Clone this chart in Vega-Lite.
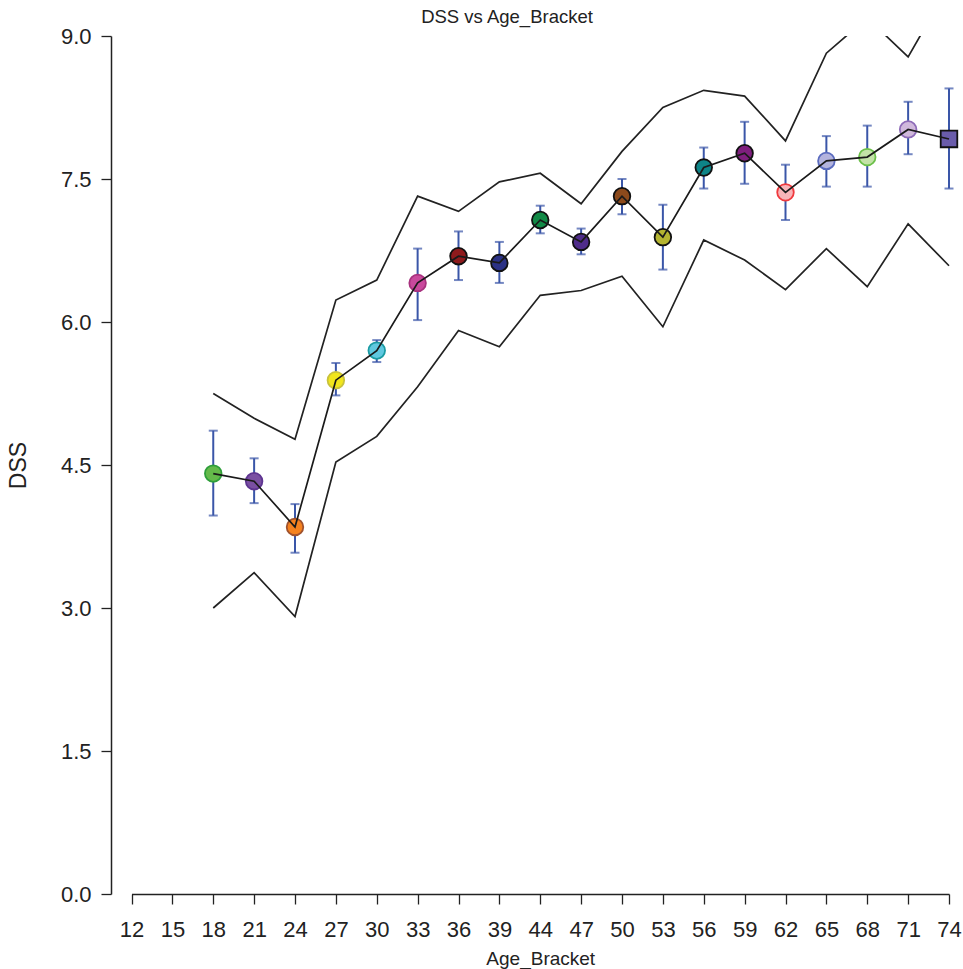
{
  "$schema": "https://vega.github.io/schema/vega-lite/v6.json",
  "autosize": {"type": "none"},
  "padding": {"left": 111, "top": 36, "right": 0, "bottom": 75},
  "width": 852,
  "height": 858,
  "background": "white",
  "title": {"text": "DSS vs Age_Bracket", "fontSize": 18.5, "font": "Liberation Sans", "fontWeight": "normal", "color": "#222", "dx": -30, "offset": -1},
  "config": {
    "view": {"stroke": null},
    "font": "Liberation Sans",
    "axis": {"grid": false, "domainColor": "#222", "domainWidth": 1.5, "tickColor": "#222", "tickWidth": 1.3, "tickSize": 10, "labelFont": "Liberation Sans", "labelFontSize": 22, "labelColor": "#222", "titleFont": "Liberation Sans", "titleColor": "#222", "titleFontWeight": "normal"}
  },
  "data": {"values": [
    {"age": "18", "mean": 4.41, "err_lo": 3.97, "err_hi": 4.86, "band_lo": 3.00, "band_hi": 5.25},
    {"age": "21", "mean": 4.33, "err_lo": 4.10, "err_hi": 4.57, "band_lo": 3.37, "band_hi": 4.99},
    {"age": "24", "mean": 3.85, "err_lo": 3.58, "err_hi": 4.09, "band_lo": 2.91, "band_hi": 4.77},
    {"age": "27", "mean": 5.39, "err_lo": 5.23, "err_hi": 5.57, "band_lo": 4.53, "band_hi": 6.23},
    {"age": "30", "mean": 5.70, "err_lo": 5.58, "err_hi": 5.81, "band_lo": 4.80, "band_hi": 6.44},
    {"age": "33", "mean": 6.41, "err_lo": 6.02, "err_hi": 6.77, "band_lo": 5.32, "band_hi": 7.32},
    {"age": "36", "mean": 6.69, "err_lo": 6.44, "err_hi": 6.95, "band_lo": 5.91, "band_hi": 7.16},
    {"age": "39", "mean": 6.62, "err_lo": 6.41, "err_hi": 6.84, "band_lo": 5.74, "band_hi": 7.47},
    {"age": "44", "mean": 7.07, "err_lo": 6.93, "err_hi": 7.22, "band_lo": 6.28, "band_hi": 7.56},
    {"age": "47", "mean": 6.84, "err_lo": 6.71, "err_hi": 6.98, "band_lo": 6.33, "band_hi": 7.24},
    {"age": "50", "mean": 7.32, "err_lo": 7.13, "err_hi": 7.50, "band_lo": 6.48, "band_hi": 7.79},
    {"age": "53", "mean": 6.89, "err_lo": 6.55, "err_hi": 7.23, "band_lo": 5.95, "band_hi": 8.25},
    {"age": "56", "mean": 7.62, "err_lo": 7.40, "err_hi": 7.83, "band_lo": 6.86, "band_hi": 8.43},
    {"age": "59", "mean": 7.77, "err_lo": 7.45, "err_hi": 8.10, "band_lo": 6.65, "band_hi": 8.37},
    {"age": "62", "mean": 7.36, "err_lo": 7.07, "err_hi": 7.65, "band_lo": 6.34, "band_hi": 7.90},
    {"age": "65", "mean": 7.69, "err_lo": 7.42, "err_hi": 7.95, "band_lo": 6.77, "band_hi": 8.82},
    {"age": "68", "mean": 7.73, "err_lo": 7.42, "err_hi": 8.06, "band_lo": 6.37, "band_hi": 9.19},
    {"age": "71", "mean": 8.02, "err_lo": 7.76, "err_hi": 8.31, "band_lo": 7.03, "band_hi": 8.78},
    {"age": "74", "mean": 7.92, "err_lo": 7.40, "err_hi": 8.45, "band_lo": 6.59, "band_hi": 9.53}
  ]},
  "encoding": {
    "x": {"field": "age", "type": "ordinal",
      "scale": {"type": "point", "padding": 0, "domain": ["12","15","18","21","24","27","30","33","36","39","44","47","50","53","56","59","62","65","68","71","74"], "range": [20.5, 838]},
      "axis": {"title": "Age_Bracket", "titleFontSize": 19, "titlePadding": 9, "labelAngle": 0, "labelPadding": 15}}
  },
  "layer": [
    {"mark": {"type": "line", "color": "#222", "strokeWidth": 1.7, "clip": true},
     "encoding": {"y": {"field": "band_hi", "type": "quantitative",
       "scale": {"domain": [0, 9], "nice": false, "zero": false},
       "axis": {"title": "DSS", "titleFontSize": 23, "titlePadding": 30, "values": [0, 1.5, 3, 4.5, 6, 7.5, 9], "format": ".1f", "labelPadding": 10}}}},
    {"mark": {"type": "line", "color": "#222", "strokeWidth": 1.7, "clip": true},
     "encoding": {"y": {"field": "band_lo", "type": "quantitative"}}},
    {"mark": {"type": "rule", "color": "#3a56a8", "strokeWidth": 2},
     "encoding": {"y": {"field": "err_lo", "type": "quantitative"}, "y2": {"field": "err_hi"}}},
    {"mark": {"type": "tick", "color": "#3a56a8", "thickness": 2, "size": 9, "orient": "horizontal"},
     "encoding": {"y": {"field": "err_lo", "type": "quantitative"}}},
    {"mark": {"type": "tick", "color": "#3a56a8", "thickness": 2, "size": 9, "orient": "horizontal"},
     "encoding": {"y": {"field": "err_hi", "type": "quantitative"}}},
    {"mark": {"type": "point", "filled": true, "opacity": 1, "size": 275, "strokeWidth": 1.8},
     "encoding": {
       "y": {"field": "mean", "type": "quantitative"},
       "shape": {"field": "age", "type": "nominal", "legend": null,
         "scale": {"domain": ["18","21","24","27","30","33","36","39","44","47","50","53","56","59","62","65","68","71","74"],
           "range": ["circle","circle","circle","circle","circle","circle","circle","circle","circle","circle","circle","circle","circle","circle","circle","circle","circle","circle","square"]}},
       "fill": {"field": "age", "type": "nominal", "legend": null,
         "scale": {"domain": ["18","21","24","27","30","33","36","39","44","47","50","53","56","59","62","65","68","71","74"],
           "range": ["#64b94a","#7a4fa2","#f5821f","#f1e61d","#5fc8e0","#c9499d","#8e1a1c","#2b3185","#128a47","#4f2c8a","#8c4a1c","#b5b531","#0e8487","#7f1f7e","#f8b4b8","#b4b4de","#c3e2a8","#d0b8dc","#6a5cab"]}},
       "stroke": {"field": "age", "type": "nominal", "legend": null,
         "scale": {"domain": ["18","21","24","27","30","33","36","39","44","47","50","53","56","59","62","65","68","71","74"],
           "range": ["#2e9e3a","#5e3591","#a0522d","#c9c23c","#1a9ba3","#a8327f","#111111","#111111","#111111","#111111","#111111","#111111","#111111","#111111","#ef3a3e","#5b6cbf","#6cc04a","#8e6bb8","#111111"]}}
     }},
    {"mark": {"type": "line", "color": "#1a1a1a", "strokeWidth": 1.7},
     "encoding": {"y": {"field": "mean", "type": "quantitative"}}}
  ]
}
